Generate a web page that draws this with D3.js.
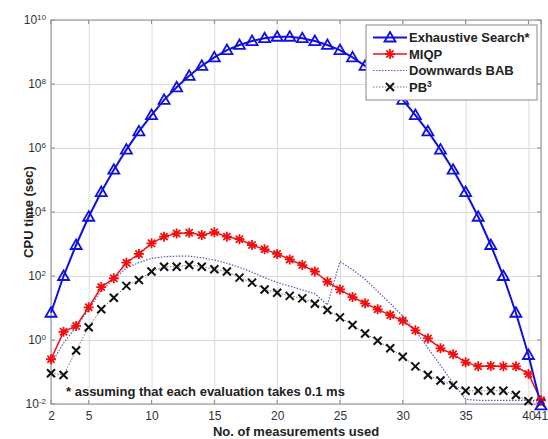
<!DOCTYPE html>
<html lang="en">
<head>
    <meta charset="utf-8">
    <title>CPU time vs measurements</title>
    <script type="text/javascript" src="https://cdn.jsdelivr.net/npm/d3@7"></script>
    <style type="text/css">
        body { margin: 0; background: #fff; }
        svg { font-family: "Liberation Sans", Arial, sans-serif; }
    </style>
</head>
<body>
    <script type="text/javascript">
        // Number of measurements used (x)
        var measurements = d3.range(2, 42);

        // CPU time (sec) per series
        var exhaustive = [7.1, 100, 930, 7.1e3, 4.2e4, 2.1e5, 8.9e5, 3.3e6, 1.07e7, 3.2e7,
            7.9e7, 1.8e8, 3.7e8, 6.8e8, 1.15e9, 1.66e9, 2.2e9, 2.7e9, 3.0e9, 3.0e9,
            2.7e9, 2.2e9, 1.66e9, 1.15e9, 6.8e8, 3.7e8, 1.8e8, 7.9e7, 3.2e7, 1.07e7,
            3.3e6, 8.9e5, 2.1e5, 4.2e4, 7.1e3, 930, 100, 7.1, 0.34, 0.009];
        var miqp = [0.25, 1.8, 2.75, 10.5, 45, 85, 260, 490, 1050, 1700,
            2140, 2240, 1900, 2340, 1700, 1410, 930, 680, 490, 330,
            220, 138, 66, 38, 22, 14, 9.1, 6.0, 4.0, 2.0,
            1.12, 0.55, 0.36, 0.2, 0.15, 0.155, 0.15, 0.15, 0.087, 0.013];
        var downwardsBab = [0.18, 0.8, 2.6, 8.9, 35, 79, 178, 263, 355, 400,
            417, 417, 372, 316, 251, 186, 132, 89, 63, 48,
            37, 28, 12.6, 282, 158, 79, 33, 13.8, 5.6, 2.0,
            0.56, 0.16, 0.045, 0.014, 0.013, 0.013, 0.013, 0.013, 0.013, 0.013];
        var pb3 = [0.091, 0.081, 0.47, 2.5, 9.1, 21, 49, 75, 138, 195,
            195, 220, 195, 162, 138, 89, 62, 38, 30, 24,
            20, 13.5, 8.7, 5.1, 2.95, 1.6, 0.95, 0.55, 0.30, 0.15,
            0.081, 0.054, 0.039, 0.026, 0.026, 0.026, 0.026, 0.019, 0.0123, 0.011];

        var xTicks = [2, 5, 10, 15, 20, 25, 30, 35, 40, 41];
        var yTicks = [1e-2, 1e0, 1e2, 1e4, 1e6, 1e8, 1e10];

        // Width and height
        var w = 548;
        var h = 439;
        var margin = { top: 20, right: 7, bottom: 35, left: 51 };
        var pw = w - margin.left - margin.right;
        var ph = h - margin.top - margin.bottom;

        var x = d3.scaleLinear().domain([2, 41]).range([0, pw]);
        var y = d3.scaleLog().domain([1e-2, 1e10]).range([ph, 0]);

        var svg = d3.select("body")
            .append("svg")
            .attr("width", w)
            .attr("height", h);

        var g = svg.append("g")
            .attr("transform", "translate(" + margin.left + "," + margin.top + ")");

        // Grid + axes
        var xAxis = g.append("g")
            .attr("transform", "translate(0," + ph + ")")
            .call(d3.axisBottom(x).tickValues(xTicks).tickSize(-ph).tickPadding(7).tickFormat(d3.format("d")));
        var yAxis = g.append("g")
            .call(d3.axisLeft(y).tickValues(yTicks).tickSize(-pw).tickPadding(7).tickFormat(function() { return ""; }));

        [xAxis, yAxis].forEach(function(a) {
            a.select(".domain").remove();
            a.selectAll("line").attr("stroke", "#dcdcdc").attr("stroke-width", 1);
            a.selectAll("text").attr("fill", "#333").style("font-size", "12px");
        });

        // y tick labels as 10^n
        yAxis.selectAll(".tick text")
            .attr("x", -5)
            .attr("dy", "0.32em")
            .each(function(d) {
                var t = d3.select(this);
                t.append("tspan").text("10");
                t.append("tspan")
                    .attr("dy", "-0.55em")
                    .style("font-size", "8px")
                    .text(Math.round(Math.log10(d)));
            });

        // Axes box
        g.append("rect")
            .attr("width", pw)
            .attr("height", ph)
            .attr("fill", "none")
            .attr("stroke", "#8c8c8c")
            .attr("stroke-width", 1);

        // Small inward ticks
        xTicks.forEach(function(t) {
            g.append("line").attr("x1", x(t)).attr("x2", x(t)).attr("y1", ph).attr("y2", ph - 4).attr("stroke", "#8c8c8c");
            g.append("line").attr("x1", x(t)).attr("x2", x(t)).attr("y1", 0).attr("y2", 4).attr("stroke", "#8c8c8c");
        });
        yTicks.forEach(function(t) {
            g.append("line").attr("x1", 0).attr("x2", 4).attr("y1", y(t)).attr("y2", y(t)).attr("stroke", "#8c8c8c");
            g.append("line").attr("x1", pw).attr("x2", pw - 4).attr("y1", y(t)).attr("y2", y(t)).attr("stroke", "#8c8c8c");
        });

        var line = d3.line()
            .x(function(d) { return x(d[0]); })
            .y(function(d) { return y(d[1]); });

        function pairs(vals) {
            return measurements.map(function(m, i) { return [m, vals[i]]; });
        }

        // Marker drawers
        function triangle(sel, cx, cy) {
            sel.append("path")
                .attr("d", "M" + cx + "," + (cy - 5.5) + "L" + (cx + 5.5) + "," + (cy + 4) + "L" + (cx - 5.5) + "," + (cy + 4) + "Z")
                .attr("fill", "none").attr("stroke", "#1010e0").attr("stroke-width", 1.8);
        }
        function asterisk(sel, cx, cy) {
            var r = 5, d = 3.6;
            sel.append("path")
                .attr("d", "M" + (cx - r) + "," + cy + "h" + (2 * r) +
                    "M" + cx + "," + (cy - r) + "v" + (2 * r) +
                    "M" + (cx - d) + "," + (cy - d) + "l" + (2 * d) + "," + (2 * d) +
                    "M" + (cx - d) + "," + (cy + d) + "l" + (2 * d) + "," + (-2 * d))
                .attr("stroke", "#f01010").attr("stroke-width", 1.8);
        }
        function cross(sel, cx, cy) {
            var d = 4;
            sel.append("path")
                .attr("d", "M" + (cx - d) + "," + (cy - d) + "l" + (2 * d) + "," + (2 * d) +
                    "M" + (cx - d) + "," + (cy + d) + "l" + (2 * d) + "," + (-2 * d))
                .attr("stroke", "#111").attr("stroke-width", 2);
        }

        // PB3
        g.append("path").datum(pairs(pb3)).attr("d", line)
            .attr("fill", "none").attr("stroke", "#777").attr("stroke-width", 1).attr("stroke-dasharray", "1.5,1.5");
        // Downwards BAB
        g.append("path").datum(pairs(downwardsBab)).attr("d", line)
            .attr("fill", "none").attr("stroke", "#5a5ab8").attr("stroke-width", 1.2).attr("stroke-dasharray", "1.5,1.5");
        // MIQP
        g.append("path").datum(pairs(miqp)).attr("d", line)
            .attr("fill", "none").attr("stroke", "#f01010").attr("stroke-width", 1.5);
        // Exhaustive
        g.append("path").datum(pairs(exhaustive)).attr("d", line)
            .attr("fill", "none").attr("stroke", "#1010e0").attr("stroke-width", 2);

        var mk = g.append("g");
        pairs(pb3).forEach(function(p) { cross(mk, x(p[0]), y(p[1])); });
        pairs(miqp).forEach(function(p) { asterisk(mk, x(p[0]), y(p[1])); });
        pairs(exhaustive).forEach(function(p) { triangle(mk, x(p[0]), y(p[1])); });

        // Note
        g.append("text")
            .attr("x", 15).attr("y", ph - 8)
            .style("font-size", "13px").style("font-weight", "bold").attr("fill", "#222")
            .text("* assuming that each evaluation takes 0.1 ms");

        // Axis titles
        svg.append("text")
            .attr("x", margin.left + pw / 2).attr("y", 436)
            .attr("text-anchor", "middle")
            .style("font-size", "13px").style("font-weight", "bold").attr("fill", "#222")
            .text("No. of measurements used");
        svg.append("text")
            .attr("transform", "translate(33," + (margin.top + ph / 2) + ") rotate(-90)")
            .attr("text-anchor", "middle")
            .style("font-size", "13px").style("font-weight", "bold").attr("fill", "#222")
            .text("CPU time (sec)");

        // Legend
        var lg = svg.append("g").attr("transform", "translate(366,25)");
        lg.append("rect").attr("width", 171).attr("height", 75)
            .attr("fill", "#fff").attr("stroke", "#888").attr("stroke-width", 1);
        var items = [
            { name: "Exhaustive Search*", stroke: "#1010e0", width: 2, dash: null, marker: triangle },
            { name: "MIQP", stroke: "#f01010", width: 1.5, dash: null, marker: asterisk },
            { name: "Downwards BAB", stroke: "#5a5ab8", width: 1.2, dash: "1.5,1.5", marker: null },
            { name: "PB3", stroke: "#777", width: 1, dash: "1.5,1.5", marker: cross }
        ];
        items.forEach(function(it, i) {
            var cy = 12.5 + i * 16.5;
            lg.append("line").attr("x1", 7).attr("x2", 41).attr("y1", cy).attr("y2", cy)
                .attr("stroke", it.stroke).attr("stroke-width", it.width)
                .attr("stroke-dasharray", it.dash);
            if (it.marker) it.marker(lg, 24, cy);
            var t = lg.append("text").attr("x", 43).attr("y", cy).attr("dy", "0.35em")
                .style("font-size", "13px").style("font-weight", "bold").attr("fill", "#222");
            if (it.name === "PB3") {
                t.append("tspan").text("PB");
                t.append("tspan").attr("dy", "-0.5em").style("font-size", "8.5px").text("3");
            } else {
                t.text(it.name);
            }
        });
    </script>
</body>
</html>
